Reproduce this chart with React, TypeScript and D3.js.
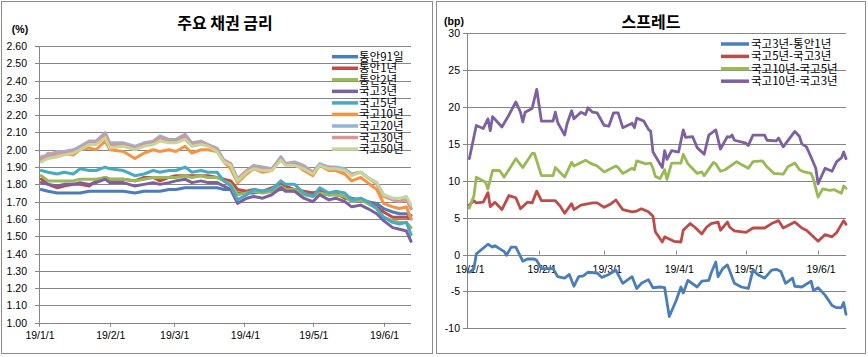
import React from "react";
import * as d3 from "d3";

// ---------- Left chart: 주요 채권 금리 ----------
const rateDates = ["1/2","1/5","1/9","1/12","1/16","1/19","1/23","1/26","1/30","2/1","2/7","2/12","2/16","2/20","2/23","2/27","3/2","3/6","3/9","3/13","3/16","3/20","3/23","3/26","3/29","4/2","4/5","4/9","4/13","4/17","4/19","4/23","4/27","5/1","5/4","5/8","5/11","5/15","5/18","5/22","5/25","5/29","6/1","6/5","6/8","6/11","6/13"];
const msb91d = [1.77,1.76,1.75,1.75,1.75,1.75,1.76,1.76,1.76,1.76,1.76,1.75,1.76,1.76,1.76,1.77,1.77,1.78,1.78,1.78,1.78,1.78,1.77,1.77,1.75,1.75,1.75,1.76,1.76,1.77,1.77,1.76,1.75,1.75,1.75,1.74,1.74,1.73,1.72,1.71,1.70,1.69,1.66,1.64,1.63,1.63,1.62];
const msb1y = [1.83,1.80,1.78,1.79,1.80,1.80,1.79,1.82,1.84,1.83,1.83,1.82,1.84,1.84,1.82,1.84,1.85,1.85,1.85,1.85,1.85,1.84,1.83,1.82,1.77,1.76,1.77,1.76,1.78,1.80,1.79,1.77,1.76,1.75,1.76,1.74,1.75,1.72,1.71,1.71,1.70,1.67,1.64,1.61,1.61,1.61,1.60];
const msb2y = [1.85,1.82,1.82,1.82,1.82,1.83,1.83,1.83,1.84,1.83,1.83,1.82,1.83,1.84,1.84,1.84,1.84,1.85,1.84,1.85,1.84,1.84,1.82,1.80,1.74,1.75,1.76,1.75,1.76,1.79,1.77,1.77,1.74,1.73,1.75,1.74,1.74,1.73,1.70,1.71,1.69,1.66,1.61,1.59,1.58,1.58,1.55];
const ktb3y = [1.81,1.80,1.79,1.80,1.80,1.81,1.80,1.81,1.83,1.81,1.81,1.79,1.80,1.81,1.80,1.81,1.82,1.83,1.81,1.82,1.81,1.81,1.79,1.77,1.69,1.72,1.73,1.72,1.74,1.78,1.76,1.76,1.72,1.70,1.74,1.71,1.72,1.70,1.67,1.68,1.66,1.63,1.59,1.55,1.54,1.53,1.47];
const ktb5y = [1.88,1.87,1.86,1.87,1.86,1.89,1.88,1.88,1.90,1.89,1.88,1.85,1.86,1.88,1.87,1.88,1.88,1.90,1.87,1.88,1.87,1.87,1.82,1.79,1.71,1.74,1.77,1.76,1.77,1.82,1.80,1.80,1.75,1.73,1.78,1.75,1.76,1.75,1.71,1.72,1.70,1.66,1.61,1.58,1.57,1.58,1.51];
const ktb10y = [1.94,1.98,1.96,1.98,1.97,2.00,2.01,2.00,2.05,2.00,1.99,1.95,1.98,2.00,1.99,2.00,1.99,2.02,1.98,2.00,2.00,1.99,1.93,1.89,1.81,1.86,1.89,1.87,1.88,1.95,1.92,1.92,1.88,1.85,1.91,1.88,1.88,1.86,1.82,1.84,1.81,1.77,1.69,1.67,1.66,1.67,1.60];
const ktb20y = [1.96,1.97,1.99,1.99,2.00,2.02,2.05,2.05,2.10,2.04,2.04,2.02,2.04,2.05,2.08,2.06,2.06,2.09,2.04,2.05,2.03,2.01,1.94,1.92,1.83,1.88,1.91,1.90,1.89,1.96,1.92,1.93,1.91,1.87,1.92,1.90,1.90,1.89,1.86,1.87,1.84,1.81,1.74,1.71,1.70,1.72,1.66];
const ktb30y = [1.95,1.96,1.98,1.98,1.99,2.01,2.04,2.04,2.09,2.03,2.03,2.01,2.03,2.04,2.07,2.05,2.05,2.08,2.03,2.04,2.03,2.00,1.94,1.92,1.83,1.88,1.90,1.89,1.89,1.95,1.92,1.92,1.90,1.87,1.91,1.90,1.89,1.88,1.86,1.87,1.84,1.80,1.73,1.71,1.70,1.71,1.66];
const ktb50y = [1.93,1.95,1.96,1.97,1.98,2.00,2.03,2.03,2.07,2.01,2.02,2.00,2.02,2.03,2.05,2.04,2.04,2.06,2.02,2.03,2.02,1.99,1.93,1.91,1.82,1.87,1.89,1.88,1.88,1.94,1.91,1.91,1.89,1.86,1.91,1.89,1.89,1.88,1.85,1.87,1.84,1.81,1.74,1.72,1.72,1.73,1.68];

const rateNames = ["통안91일","통안1년","통안2년","국고3년","국고5년","국고10년","국고20년","국고30년","국고50년"];
const rateColors = ["#4a7ebb","#be4b48","#98b954","#7d60a0","#46aac5","#f69240","#95b3d7","#d99694","#c3d69b"];
const rateSeries = [msb91d, msb1y, msb2y, ktb3y, ktb5y, ktb10y, ktb20y, ktb30y, ktb50y];
const rateTicks = [1.0,1.1,1.2,1.3,1.4,1.5,1.6,1.7,1.8,1.9,2.0,2.1,2.2,2.3,2.4,2.5,2.6];

// ---------- Right chart: 스프레드 (bp) ----------
const spread3y1y: [string, number][] = [["1/2",-2.4],["1/4",-1.9],["1/5",0.1],["1/10",1.4],["1/12",1.0],["1/13",1.2],["1/16",0.6],["1/17",0.4],["1/18",-0.1],["1/20",1.0],["1/22",1.0],["1/25",-0.9],["1/27",-0.6],["1/30",-0.6],["1/31",-0.8],["2/2",-1.9],["2/7",-1.9],["2/9",-3.0],["2/12",-3.2],["2/14",-2.7],["2/16",-4.3],["2/18",-3.0],["2/20",-2.9],["2/22",-2.4],["2/26",-2.5],["2/28",-3.1],["3/3",-2.7],["3/6",-2.1],["3/9",-3.9],["3/13",-3.0],["3/15",-4.6],["3/17",-3.9],["3/20",-3.4],["3/22",-4.5],["3/25",-4.4],["3/27",-4.5],["3/29",-8.4],["4/1",-6.2],["4/3",-4.4],["4/4",-5.2],["4/6",-3.5],["4/10",-4.4],["4/12",-3.6],["4/15",-3.5],["4/16",-2.5],["4/18",-1.0],["4/19",-3.0],["4/21",-1.9],["4/23",-1.4],["4/26",-3.9],["4/29",-4.4],["5/2",-4.6],["5/4",-2.1],["5/6",-2.7],["5/9",-3.2],["5/12",-2.1],["5/14",-2.0],["5/16",-2.3],["5/18",-3.9],["5/21",-3.2],["5/22",-4.3],["5/25",-4.4],["5/29",-3.6],["5/30",-4.9],["6/1",-4.5],["6/4",-5.5],["6/7",-6.9],["6/9",-7.2],["6/11",-7.2],["6/12",-6.5],["6/13",-8.1]];
const spread5y3y: [string, number][] = [["1/2",6.7],["1/4",7.3],["1/5",7.0],["1/8",7.1],["1/10",8.4],["1/11",6.5],["1/13",7.1],["1/16",6.1],["1/19",8.0],["1/22",7.7],["1/24",6.2],["1/27",7.1],["1/29",7.0],["1/31",8.6],["2/2",7.3],["2/8",7.3],["2/10",6.6],["2/12",5.6],["2/15",6.9],["2/16",6.1],["2/19",6.7],["2/24",7.0],["2/26",7.0],["3/1",6.4],["3/4",6.9],["3/6",7.4],["3/9",6.1],["3/13",5.8],["3/15",5.9],["3/17",6.2],["3/20",5.8],["3/22",5.2],["3/23",3.1],["3/26",1.7],["3/27",2.4],["3/29",2.1],["3/31",1.8],["4/3",1.7],["4/4",3.3],["4/7",4.2],["4/9",3.7],["4/12",2.8],["4/14",3.7],["4/16",4.2],["4/19",4.4],["4/20",3.3],["4/23",4.4],["4/24",3.7],["4/26",3.2],["5/1",3.0],["5/4",3.6],["5/9",3.6],["5/12",4.2],["5/15",4.6],["5/17",3.6],["5/22",4.4],["5/25",3.6],["5/27",3.3],["5/30",2.4],["6/1",1.8],["6/4",2.7],["6/7",2.4],["6/9",3.0],["6/12",4.6],["6/13",4.1]];
const spread10y5y: [string, number][] = [["1/2",6.3],["1/4",8.0],["1/5",10.5],["1/9",9.8],["1/10",8.9],["1/12",11.4],["1/15",11.4],["1/17",10.5],["1/22",13.0],["1/25",11.8],["1/29",13.7],["1/30",13.7],["2/2",10.7],["2/7",10.7],["2/8",11.8],["2/12",10.5],["2/15",12.5],["2/16",12.0],["2/21",12.8],["2/23",12.4],["2/26",12.0],["3/1",11.2],["3/6",12.0],["3/7",11.8],["3/9",11.0],["3/13",11.7],["3/14",11.5],["3/15",12.7],["3/19",12.3],["3/21",12.4],["3/22",11.7],["3/23",10.6],["3/25",10.3],["3/27",11.5],["3/28",10.2],["3/30",12.4],["4/3",12.4],["4/4",13.6],["4/6",12.3],["4/10",11.0],["4/12",11.2],["4/13",10.7],["4/17",12.5],["4/18",12.3],["4/20",11.3],["4/22",11.5],["4/27",12.6],["4/29",12.2],["5/2",11.7],["5/4",12.6],["5/8",12.7],["5/10",11.9],["5/13",11.0],["5/17",10.9],["5/19",11.9],["5/22",12.4],["5/24",11.5],["5/26",11.2],["5/29",11.0],["5/30",10.2],["6/1",7.8],["6/3",8.9],["6/6",8.7],["6/8",8.8],["6/11",8.3],["6/12",9.3],["6/13",9.0]];
const spread10y3y: [string, number][] = [["1/2",13.0],["1/5",17.5],["1/8",17.1],["1/10",18.4],["1/11",16.8],["1/12",18.7],["1/16",17.3],["1/19",18.9],["1/22",20.7],["1/24",19.3],["1/25",18.0],["1/26",19.3],["1/29",19.8],["1/31",22.4],["2/2",18.1],["2/7",18.1],["2/8",19.3],["2/9",17.9],["2/12",16.2],["2/13",17.7],["2/15",19.5],["2/16",18.4],["2/19",19.3],["2/21",19.0],["2/22",19.9],["2/24",19.3],["2/26",19.2],["3/1",17.5],["3/3",17.4],["3/5",19.2],["3/7",19.2],["3/9",17.2],["3/13",17.8],["3/14",17.2],["3/15",18.5],["3/18",18.1],["3/20",17.0],["3/21",16.7],["3/22",13.9],["3/25",12.3],["3/26",11.8],["3/27",14.1],["3/28",12.9],["3/30",14.1],["4/2",13.9],["4/4",16.9],["4/5",15.9],["4/8",16.0],["4/10",14.5],["4/13",13.6],["4/15",16.2],["4/18",16.9],["4/20",14.3],["4/23",16.0],["4/24",15.9],["4/25",16.2],["4/26",15.5],["5/1",15.1],["5/2",14.8],["5/4",16.2],["5/9",16.2],["5/10",15.5],["5/14",15.4],["5/15",15.8],["5/17",14.6],["5/22",16.7],["5/24",16.0],["5/25",15.0],["5/27",14.6],["5/29",13.2],["5/31",11.7],["6/1",9.6],["6/4",11.7],["6/7",11.3],["6/9",12.6],["6/11",13.1],["6/12",13.9],["6/13",13.0]];

const spreadNames = ["국고3년-통안1년","국고5년-국고3년","국고10년-국고5년","국고10년-국고3년"];
const spreadColors = ["#4a7ebb","#be4b48","#98b954","#7d60a0"];
const spreadSeries = [spread3y1y, spread5y3y, spread10y5y, spread10y3y];
const spreadTicks = [-10,-5,0,5,10,15,20,25,30];

const monthTicks = ["1/1","2/1","3/1","4/1","5/1","6/1"];
const domainStart = "1/1";
const domainEnd = "6/13";

const parseMD = (s: string) => {
  const [m, d] = s.split("/").map(Number);
  return new Date(2019, m - 1, d);
};
const fmtTick = (s: string) => "19/" + s;

const NUM_FONT = "'Liberation Sans', Arial, 'Noto Sans CJK KR', sans-serif";
const KR_FONT = "'Noto Sans CJK KR', 'Liberation Sans', sans-serif";
const GRID = "#868686";

function LeftChart() {
  const x = d3.scaleTime().domain([parseMD(domainStart), parseMD(domainEnd)]).range([39, 411]);
  const y = d3.scaleLinear().domain([1.0, 2.6]).range([322.7, 46]);
  const dates = rateDates.map(parseMD);
  return (
    <g>
      <rect x={1.5} y={1.5} width={431} height={352} fill="#fff" stroke="#8c8c8c" />
      <text x={225} y={29} textAnchor="middle" fontFamily={KR_FONT} fontWeight="bold" fontSize={16}>주요 채권 금리</text>
      <text x={20} y={33} textAnchor="middle" fontFamily={NUM_FONT} fontWeight="bold" fontSize={10.5}>(%)</text>
      {rateTicks.map((t) => (
        <g key={t}>
          <line x1={35} x2={411} y1={Math.round(y(t)) + 0.5} y2={Math.round(y(t)) + 0.5} stroke={GRID} strokeWidth={1} />
          <text x={27} y={y(t) + 4} textAnchor="end" fontFamily={NUM_FONT} fontSize={10.5}>{t.toFixed(2)}</text>
        </g>
      ))}
      <line x1={39.5} x2={39.5} y1={y(2.6)} y2={y(1.0)} stroke={GRID} />
      {monthTicks.map((m) => (
        <g key={m}>
          <line x1={Math.round(x(parseMD(m))) + 0.5} x2={Math.round(x(parseMD(m))) + 0.5} y1={y(1.0)} y2={y(1.0) + 4} stroke={GRID} />
          <text x={x(parseMD(m)) + 1} y={339} textAnchor="middle" fontFamily={NUM_FONT} fontSize={10.5}>{fmtTick(m)}</text>
        </g>
      ))}
      {rateSeries.map((vals, i) => {
        const line = d3.line<number>().x((_, j) => x(dates[j])).y((v) => y(v));
        return <path key={i} d={line(vals) || ""} fill="none" stroke={rateColors[i]} strokeWidth={3} strokeLinejoin="round" strokeLinecap="round" />;
      })}
      {rateNames.map((n, i) => {
        const ly = 56.7 + i * 11.55;
        return (
          <g key={n}>
            <line x1={332} x2={358} y1={ly} y2={ly} stroke={rateColors[i]} strokeWidth={3.5} />
            <text x={359} y={ly + 4} fontFamily={KR_FONT} fontSize={11.5}>{n}</text>
          </g>
        );
      })}
    </g>
  );
}

function RightChart() {
  const x = d3.scaleTime().domain([parseMD(domainStart), parseMD(domainEnd)]).range([467, 846]);
  const y = d3.scaleLinear().domain([-10, 30]).range([328.3, 33.3]);
  return (
    <g>
      <rect x={436.5} y={1.5} width={429} height={352} fill="#fff" stroke="#8c8c8c" />
      <text x={651} y={28} textAnchor="middle" fontFamily={KR_FONT} fontWeight="bold" fontSize={16}>스프레드</text>
      <text x={454} y={25} textAnchor="middle" fontFamily={NUM_FONT} fontWeight="bold" fontSize={10.5}>(bp)</text>
      {spreadTicks.map((t) => (
        <g key={t}>
          <line x1={463} x2={846} y1={Math.round(y(t)) + 0.5} y2={Math.round(y(t)) + 0.5} stroke={GRID} />
          <text x={460} y={y(t) + 4} textAnchor="end" fontFamily={NUM_FONT} fontSize={10.5}>{t}</text>
        </g>
      ))}
      <line x1={467.5} x2={467.5} y1={y(30)} y2={y(-10)} stroke={GRID} />
      {monthTicks.map((m) => (
        <g key={m}>
          <line x1={Math.round(x(parseMD(m))) + 0.5} x2={Math.round(x(parseMD(m))) + 0.5} y1={y(0) - 4} y2={y(0)} stroke={GRID} />
          <text x={x(parseMD(m)) + 3} y={273} textAnchor="middle" fontFamily={NUM_FONT} fontSize={10.5}>{fmtTick(m)}</text>
        </g>
      ))}
      {spreadSeries.map((pts, i) => {
        const line = d3.line<[string, number]>().x((p) => x(parseMD(p[0]))).y((p) => y(p[1]));
        return <path key={i} d={line(pts) || ""} fill="none" stroke={spreadColors[i]} strokeWidth={2.8} strokeLinejoin="round" strokeLinecap="round" />;
      })}
      {spreadNames.map((n, i) => {
        const ly = 44 + i * 12.4;
        return (
          <g key={n}>
            <line x1={721} x2={749} y1={ly} y2={ly} stroke={spreadColors[i]} strokeWidth={3.5} />
            <text x={751} y={ly + 4} fontFamily={KR_FONT} fontSize={11.5}>{n}</text>
          </g>
        );
      })}
    </g>
  );
}

export default function App() {
  return (
    <svg width={868} height={357} style={{ position: "absolute", left: 0, top: 0, background: "#fff" }}>
      <rect x={0} y={0} width={868} height={357} fill="#fff" />
      <LeftChart />
      <RightChart />
    </svg>
  );
}
